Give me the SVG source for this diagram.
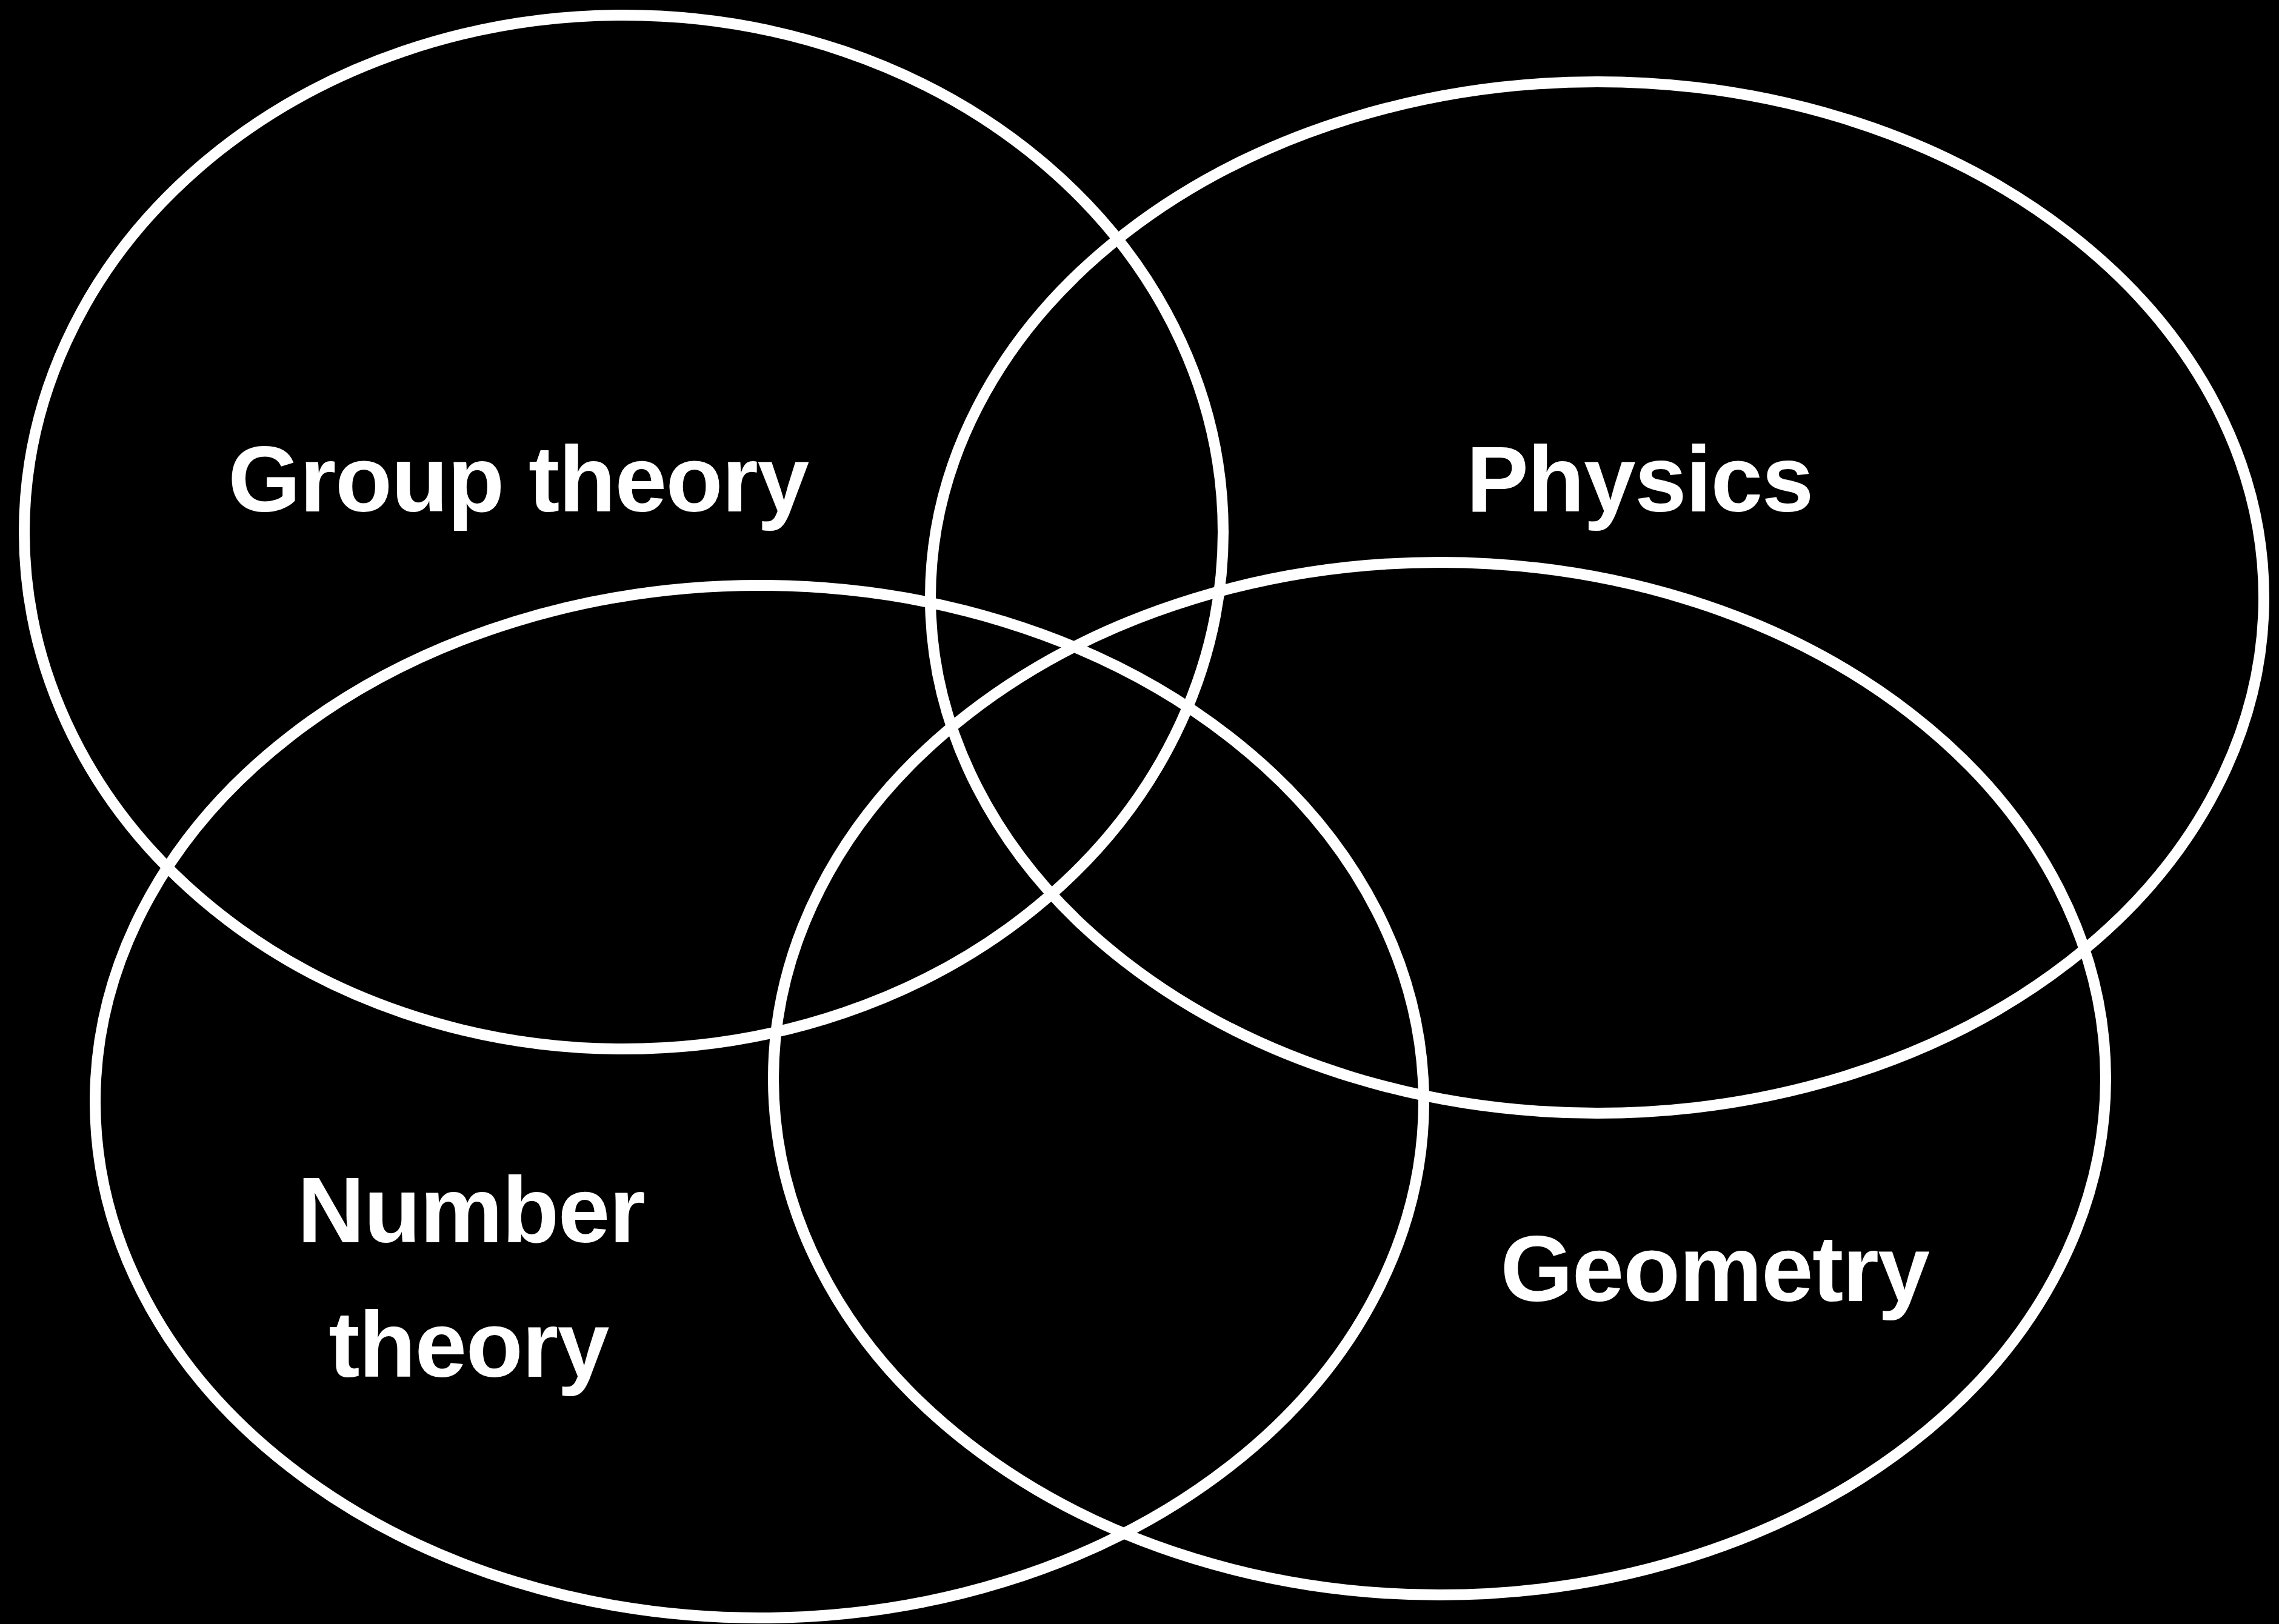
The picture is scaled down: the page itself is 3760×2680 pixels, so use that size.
<svg xmlns="http://www.w3.org/2000/svg" width="3760" height="2680" viewBox="0 0 3760 2680">
<style>
.set{fill:none;stroke:#fff;stroke-width:18}
.lbl{fill:#fff;font-family:"Liberation Sans",Arial,Helvetica,sans-serif;font-weight:bold;font-size:154px;letter-spacing:-1.5px;text-anchor:middle}
</style>
<rect width="3760" height="2680" fill="#000"/>
<g id="group-theory">
<ellipse class="set" cx="1029" cy="878" rx="989" ry="853"/>
<text class="lbl" x="855" y="844">Group theory</text>
</g>
<g id="physics">
<ellipse class="set" cx="2635" cy="986" rx="1100" ry="851"/>
<text class="lbl" x="2705" y="844">Physics</text>
</g>
<g id="number-theory">
<ellipse class="set" cx="1253" cy="1818" rx="1096" ry="852"/>
<text class="lbl" x="777" y="2050">Number</text>
<text class="lbl" x="773" y="2272">theory</text>
</g>
<g id="geometry">
<ellipse class="set" cx="2375" cy="1780" rx="1099" ry="852"/>
<text class="lbl" x="2829" y="2147">Geometry</text>
</g>
<g id="connectors"/>
</svg>
